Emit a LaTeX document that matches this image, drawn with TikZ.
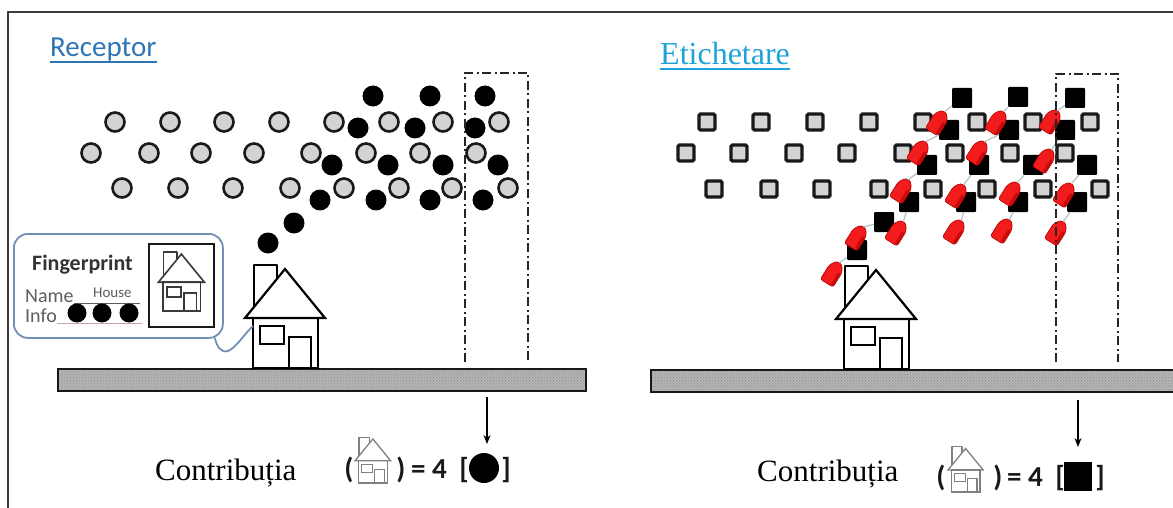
\documentclass[tikz,border=0pt]{standalone}
\usepackage{fontspec}
\setmainfont{Liberation Serif}
\newfontfamily\calibri{Carlito}
\usetikzlibrary{arrows.meta,patterns}

\definecolor{recblue}{HTML}{2E75B6}
\definecolor{etiblue}{HTML}{1FA2DA}
\definecolor{dotgray}{HTML}{D3D3D3}
\definecolor{tagred}{HTML}{F21C1C}
\definecolor{tagdark}{HTML}{C80A0A}
\definecolor{tagedge}{HTML}{B00000}
\definecolor{stringc}{HTML}{AFC3C9}
\definecolor{bubblec}{HTML}{7090B5}
\definecolor{groundc}{HTML}{B4B4B4}
\definecolor{framec}{HTML}{3C3C3C}
\definecolor{icondark}{HTML}{3A3A3A}
\definecolor{iconlight}{HTML}{808080}
\definecolor{fptext}{HTML}{333333}
\definecolor{labgray}{HTML}{5E5E5E}
\definecolor{infoline}{HTML}{C9A3A3}

\tikzset{
  % simple house: origin at the bottom-left corner of the walls
  house/.pic={
    \draw[line join=round] (1,-61) -- (1,-103) -- (24,-103) -- (24,-89.2);
    \draw (0,0) rectangle (65,-50);
    \draw[line join=miter] (-8,-50) -- (32,-99) -- (72,-50) -- cycle;
    \draw (7,-24) rectangle (31,-42);
    \draw (36,0) -- (36,-31) -- (58,-31) -- (58,0);
    \coordinate (-wall) at (0,-42);
  },
  % luggage tag: body along local x, tapered end (with the string) at +x
  tag/.pic={
    \filldraw[fill=tagred, draw=tagedge, line width=0.6pt, rounded corners=2.5pt]
      (-12,-7.5) -- (5,-7.5) -- (12,-3) -- (12,3) -- (5,7.5) -- (-12,7.5) -- cycle;
    \fill[tagdark, rounded corners=1.5pt] (-11.5,4) -- (4,4) -- (4,7) -- (-11.5,7) -- cycle;
    \coordinate (-tip) at (12,0);
  },
  gcirc/.style={circle, draw=black!90, line width=2.6pt, fill=dotgray,
    minimum size=19pt, inner sep=0pt},
  bdot/.style={circle, fill=black, minimum size=21pt, inner sep=0pt},
  gsq/.style={rectangle, draw=black!90, line width=3.2pt, fill=dotgray,
    minimum size=16pt, inner sep=0pt, rounded corners=1.5pt},
  bsq/.style={rectangle, fill=black, minimum size=20pt, inner sep=0pt,
    rounded corners=1pt},
  stringline/.style={draw=stringc, line width=1.2pt},
  dashdot/.style={line width=1.8pt, draw=black!85,
    dash pattern=on 9pt off 3.5pt on 2pt off 3.5pt},
  groundbar/.style={rectangle, draw=black!90, line width=1.5pt, fill=groundc,
    minimum height=22pt, inner sep=0pt, anchor=north west},
  downarrow/.style={line width=1.3pt, -{Stealth[length=9pt,width=7pt]}},
  serifbig/.style={anchor=base west, inner sep=0pt, font=\fontsize{31}{36}\selectfont},
  fml/.style={anchor=base, inner sep=0pt, text=black!90,
    font=\calibri\bfseries\fontsize{29}{34}\selectfont},
  housestyle/.style={line width=2.2pt, color=black},
}

\begin{document}
\begin{tikzpicture}[x=1pt, y=-1pt]
\useasboundingbox (0,0) rectangle (1173,508);
\clip (0,0) rectangle (1173,508);

% outer frame (left and top edges)
\draw[framec, line width=2pt] (8,520) -- (8,12) -- (1180,12);

% ---------------- titles ----------------
\node[anchor=base west, inner sep=0pt, text=recblue,
  font=\calibri\fontsize{29}{34}\selectfont] (rec) at (50,57) {Receptor};
\draw[recblue, line width=1.4pt] ([yshift=-5pt]rec.base west) -- ([yshift=-5pt]rec.base east);
\node[anchor=base west, inner sep=0pt, text=etiblue,
  font=\fontsize{32}{38}\selectfont] (eti) at (660,65) {Etichetare};
\draw[etiblue, line width=1.3pt] ([yshift=-4pt]eti.base west) -- ([yshift=-4pt]eti.base east);

% ---------------- left panel: particles ----------------
\foreach \x [count=\i] in {115,170,224,279,334,389,443,499}
  \node[gcirc] (ca\i) at (\x,122) {};
\foreach \x [count=\i] in {91,149,201,254,311,366,420,476}
  \node[gcirc] (cb\i) at (\x,153) {};
\foreach \x [count=\i] in {122,178,233,290,344,399,452,508}
  \node[gcirc] (cc\i) at (\x,188) {};

\foreach \x/\y [count=\i] in {373/96,430/96,485/96,358/128,415/128,475/128,
    332/165,388/165,443/165,498/165,320/200,376/200,430/200,483/200,294/223,268/243}
  \node[bdot] (d\i) at (\x,\y) {};

% sampling window
\draw[dashdot] (465,362) -- (465,73) -- (528,73) -- (528,362);

% ground
\node[groundbar, minimum width=528pt] (groundL) at (57,368) {};
\fill[pattern=crosshatch dots, pattern color=black, opacity=0.22]
  (groundL.south west) rectangle (groundL.north east);

% house
\pic (hL) [housestyle] at (253,368) {house};

% fingerprint callout
\node[draw=bubblec, line width=1.8pt, fill=white, rounded corners=14pt,
  minimum width=209pt, minimum height=104pt, inner sep=0pt, anchor=north west]
  (bub) at (13,233) {};
\draw[bubblec, line width=1.8pt] ([xshift=-9pt,yshift=1pt]bub.south east)
  .. controls (217,347) and (221,353) .. (228,351)
  .. controls (236,348) and (246,332) .. (hL-wall);

\node[anchor=base west, inner sep=0pt, text=fptext,
  font=\calibri\bfseries\fontsize{22}{26}\selectfont] (fp) at (32,270) {Fingerprint};
\node[anchor=base west, inner sep=0pt, text=labgray,
  font=\calibri\fontsize{20}{24}\selectfont] (nm) at (25,302) {Name};
\node[anchor=base west, inner sep=0pt, text=labgray,
  font=\calibri\fontsize{15}{18}\selectfont] (hs) at (93,297) {House};
\draw[labgray, line width=1pt] ([yshift=-1pt]nm.base east) -- ++(66,0);
\node[anchor=base west, inner sep=0pt, text=labgray,
  font=\calibri\fontsize{20}{24}\selectfont] (inf) at (25,322) {Info};
\draw[infoline, line width=1pt] ([yshift=-1pt]inf.base east) -- ++(85,0);
\foreach \x [count=\i] in {77,102,129}
  \node[circle, fill=black, minimum size=19pt, inner sep=0pt] (id\i) at (\x,313) {};

\node[draw=black!90, line width=1.8pt, minimum width=65pt, minimum height=83pt,
  inner sep=0pt, anchor=north west] (fpbox) at (148,243) {};
\pic (fpicon) [scale=0.575, color=icondark, line width=1.6pt] at (163,311) {house};

% contribution
\coordinate (arLs) at (487,397);
\coordinate (arLe) at (487,444);
\draw[downarrow] (arLs) -- (arLe);
\node[serifbig] (conL) at (155,480) {Contribuția};
\node[fml] (pL1) at (349,478) {(};
\pic (icL) [scale=0.445, color=iconlight, line width=1.3pt] at (358.6,483) {house};
\node[fml] (pL2) at (401,478) {)};
\node[fml, anchor=base west] (eqL) at (411,478) {= 4};
\node[fml] (bL1) at (464,478) {[};
\node[circle, fill=black, minimum size=30pt, inner sep=0pt] (dotL) at (484,468) {};
\node[fml] (bL2) at (506,478) {]};

% ---------------- right panel: labelled particles ----------------
\foreach \x [count=\i] in {707,761,815,869,923,977,1033,1090}
  \node[gsq] (sa\i) at (\x,122) {};
\foreach \x [count=\i] in {686,739,794,847,903,955,1010,1065}
  \node[gsq] (sb\i) at (\x,153) {};
\foreach \x [count=\i] in {714,769,822,879,933,987,1043,1100}
  \node[gsq] (sc\i) at (\x,189) {};

\foreach \x/\y [count=\i] in {962/98,1018/97,1075/98,949/130,1009/130,1065/130,
    927/165,979/165,1033/165,1087/165,909/202,966/202,1018/202,1077/202,884/222,857/250}
  \node[bsq] (b\i) at (\x,\y) {};

\foreach \x/\y [count=\i] in {938/122,997/122,1051/121,919/152,978/152,1045/160,
    902/190,957/195,1011/193,1065/194,897/232,955/231,1003/230,1057/232,857/237,833/273}
  \pic (t\i) [rotate=58] at (\x,\y) {tag};
\foreach \i in {1,...,16}
  \draw[stringline] (t\i-tip) -- (b\i);

\draw[dashdot] (1056,362) -- (1056,74) -- (1118,74) -- (1118,362);

\node[groundbar, minimum width=540pt] (groundR) at (650,369) {};
\fill[pattern=crosshatch dots, pattern color=black, opacity=0.22]
  (groundR.south west) rectangle (groundR.north east);

\pic (hR) [housestyle] at (844,369) {house};

\coordinate (arRs) at (1078,400);
\coordinate (arRe) at (1078,447);
\draw[downarrow] (arRs) -- (arRe);
\node[serifbig] (conR) at (757,481) {Contribuția};
\node[fml] (pR1) at (941,486) {(};
\pic (icR) [scale=0.44, color=iconlight, line width=1.3pt] at (951.5,492) {house};
\node[fml] (pR2) at (998,486) {)};
\node[fml, anchor=base west] (eqR) at (1007,486) {= 4};
\node[fml] (bR1) at (1060,486) {[};
\node[rectangle, fill=black, minimum width=28pt, minimum height=29pt, inner sep=0pt] (sqR) at (1078,476) {};
\node[fml] (bR2) at (1100,486) {]};
\end{tikzpicture}
\end{document}
